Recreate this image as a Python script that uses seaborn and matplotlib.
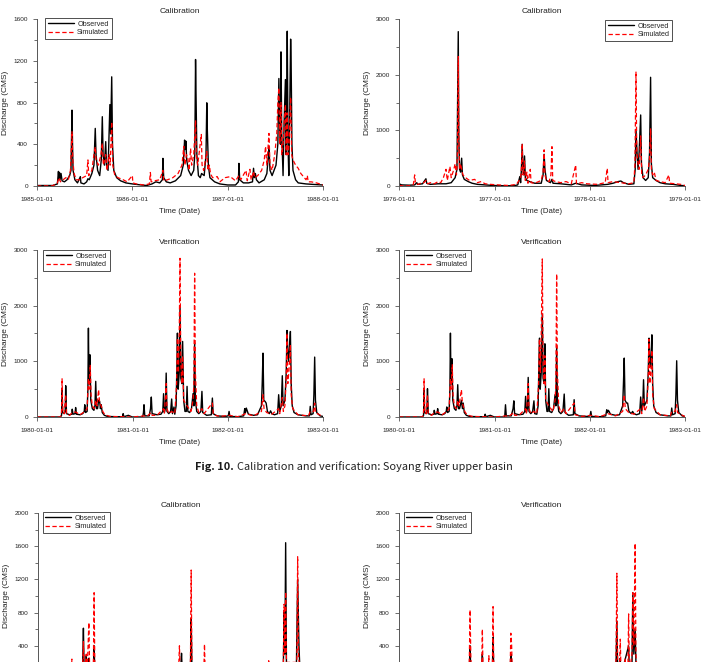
import pandas as pd
import matplotlib
matplotlib.use('Agg')
import matplotlib.pyplot as plt
import matplotlib.dates as mdates
from matplotlib.ticker import MultipleLocator
import seaborn as sns

# ==========================================
# DADOS (dia desde o inicio do periodo, vazao em CMS)
# ==========================================
tl_start, tl_end = '1985-01-01', '1988-01-01'
tl_obs = [(0, 5), (60, 5), (78, 20), (82, 140), (84, 60), (86, 130), (88, 60), (92, 120), (96, 50),
          (105, 40), (115, 60), (125, 100), (130, 150), (134, 727), (136, 400), (138, 150), (145, 60),
          (155, 30), (166, 90), (168, 30), (180, 20), (190, 40), (195, 70), (200, 60), (210, 120),
          (218, 200), (223, 552), (226, 300), (232, 150), (240, 100), (246, 250), (250, 664), (253, 300),
          (258, 200), (263, 425), (266, 200), (272, 150), (279, 780), (282, 500), (286, 1046), (289, 400),
          (294, 150), (305, 80), (320, 50), (340, 30), (365, 20), (400, 10), (420, 5), (440, 20), (455, 40),
          (470, 30), (480, 60), (482, 265), (485, 80), (495, 40), (510, 30), (530, 50), (550, 100),
          (560, 200), (565, 440), (568, 350), (570, 430), (573, 250), (580, 150), (590, 100), (600, 150),
          (604, 300), (607, 1212), (609, 840), (612, 300), (618, 100), (625, 80), (630, 120), (640, 100),
          (647, 300), (650, 797), (652, 545), (656, 200), (662, 80), (680, 40), (700, 20), (730, 10),
          (760, 10), (771, 40), (773, 217), (776, 60), (790, 30), (810, 30), (825, 40), (829, 170),
          (832, 80), (836, 120), (840, 60), (850, 30), (870, 60), (880, 120), (886, 300), (888, 380),
          (892, 150), (900, 100), (915, 200), (922, 400), (926, 1030), (929, 600), (932, 400), (934, 1285),
          (937, 500), (942, 100), (946, 600), (951, 1020), (954, 300), (956, 700), (958, 1483), (961, 400),
          (964, 100), (967, 600), (971, 1407), (973, 1160), (976, 400), (980, 150), (990, 60), (1000, 30),
          (1030, 20), (1060, 15), (1095, 10)]
tl_sim = [(0, 0), (60, 2), (78, 30), (84, 80), (90, 40), (100, 60), (110, 80), (120, 60), (128, 150),
          (134, 520), (137, 250), (142, 120), (150, 60), (166, 60), (175, 80), (190, 100), (195, 250),
          (198, 100), (210, 150), (218, 300), (223, 376), (226, 250), (235, 200), (245, 300), (250, 410),
          (254, 200), (260, 250), (263, 300), (268, 150), (276, 300), (280, 200), (286, 615), (290, 200),
          (298, 100), (310, 80), (330, 60), (345, 40), (365, 100), (367, 30), (380, 20), (410, 10),
          (430, 20), (434, 130), (437, 40), (450, 50), (470, 60), (482, 150), (485, 50), (500, 60),
          (520, 80), (540, 120), (555, 200), (562, 380), (566, 200), (572, 300), (577, 280), (582, 150),
          (588, 360), (592, 200), (600, 300), (607, 630), (610, 300), (615, 200), (620, 300), (629, 494),
          (632, 200), (638, 150), (650, 330), (654, 150), (660, 200), (664, 120), (672, 80), (690, 90),
          (700, 40), (720, 80), (740, 90), (760, 50), (773, 100), (780, 60), (800, 150), (805, 50),
          (815, 160), (820, 60), (829, 140), (833, 80), (845, 100), (860, 150), (870, 250), (875, 380),
          (880, 200), (888, 504), (892, 200), (900, 150), (910, 300), (918, 500), (922, 800), (926, 940),
          (929, 400), (934, 800), (937, 300), (942, 400), (946, 600), (951, 780), (954, 300), (958, 700),
          (961, 300), (965, 400), (971, 850), (975, 300), (980, 250), (990, 200), (1000, 170), (1010, 120),
          (1020, 90), (1030, 60), (1035, 100), (1038, 40), (1050, 40), (1070, 30), (1095, 10)]

tr_start, tr_end = '1976-01-01', '1979-01-01'
tr_obs = [(0, 40), (10, 20), (40, 15), (60, 20), (68, 60), (72, 30), (90, 40), (103, 130), (106, 50),
          (120, 30), (150, 40), (180, 40), (200, 60), (215, 150), (222, 300), (227, 2773), (229, 900),
          (232, 300), (236, 250), (240, 500), (243, 200), (250, 120), (265, 80), (280, 50), (300, 30),
          (330, 20), (360, 10), (400, 5), (440, 5), (455, 20), (463, 170), (466, 60), (469, 300),
          (472, 749), (475, 300), (478, 200), (481, 540), (484, 150), (490, 100), (500, 80), (520, 50),
          (545, 50), (552, 200), (556, 570), (559, 300), (565, 100), (580, 60), (586, 120), (590, 50),
          (620, 40), (660, 20), (677, 50), (700, 20), (750, 10), (800, 30), (820, 50), (840, 80), (850, 90),
          (860, 60), (880, 30), (900, 40), (905, 300), (908, 1018), (912, 600), (916, 300), (920, 600),
          (926, 1276), (929, 400), (935, 150), (945, 100), (955, 150), (960, 600), (964, 1953), (967, 400),
          (972, 150), (985, 100), (1000, 60), (1020, 40), (1050, 30), (1080, 10), (1096, 5)]
tr_sim = [(0, 10), (20, 0), (40, 5), (55, 30), (60, 200), (63, 40), (75, 30), (85, 60), (95, 60), (103, 100),
          (110, 40), (120, 60), (135, 40), (150, 80), (160, 60), (170, 150), (180, 300), (185, 100),
          (195, 350), (200, 150), (210, 300), (215, 400), (220, 200), (224, 600), (227, 2324), (229, 900),
          (232, 300), (236, 400), (240, 300), (245, 200), (255, 150), (270, 100), (290, 120), (300, 60),
          (315, 80), (330, 40), (350, 30), (380, 20), (420, 10), (450, 30), (460, 100), (466, 150),
          (469, 300), (472, 760), (475, 200), (481, 450), (484, 100), (490, 250), (494, 50), (503, 300),
          (506, 60), (520, 50), (545, 100), (552, 250), (556, 650), (559, 200), (565, 100), (575, 80),
          (582, 200), (586, 707), (589, 100), (600, 80), (620, 60), (640, 80), (660, 40), (677, 377),
          (680, 40), (700, 60), (720, 40), (760, 30), (790, 60), (798, 317), (801, 60), (820, 80), (850, 60),
          (880, 40), (900, 60), (904, 400), (908, 2055), (911, 600), (916, 400), (920, 300), (926, 900),
          (930, 200), (935, 150), (945, 200), (955, 300), (960, 500), (964, 1036), (967, 300), (972, 200),
          (978, 250), (985, 100), (1000, 80), (1020, 60), (1034, 198), (1037, 50), (1060, 40), (1080, 30),
          (1096, 10)]

ml_start, ml_end = '1980-01-01', '1983-01-01'
ml_obs = [(0, 0), (90, 0), (94, 30), (96, 520), (98, 80), (104, 60), (108, 100), (110, 562), (113, 60),
          (125, 40), (133, 50), (135, 140), (138, 50), (146, 60), (148, 170), (151, 50), (165, 40), (175, 60),
          (181, 100), (183, 220), (186, 80), (192, 100), (195, 500), (197, 1596), (199, 600), (201, 700),
          (203, 1117), (206, 300), (212, 150), (218, 120), (222, 200), (225, 640), (228, 150), (232, 150),
          (236, 300), (240, 280), (243, 150), (246, 220), (250, 80), (258, 30), (270, 10), (300, 5),
          (328, 5), (330, 60), (333, 5), (350, 30), (365, 0), (405, 0), (408, 80), (410, 220), (413, 20),
          (430, 20), (435, 150), (438, 358), (441, 60), (460, 40), (475, 50), (482, 100), (485, 418),
          (488, 80), (492, 150), (495, 789), (498, 100), (505, 60), (512, 100), (516, 323), (519, 60),
          (525, 180), (528, 50), (533, 200), (536, 900), (538, 1506), (541, 500), (545, 800), (548, 1984),
          (551, 700), (555, 600), (558, 1357), (562, 300), (567, 100), (572, 100), (575, 550), (578, 100),
          (585, 80), (592, 150), (598, 420), (601, 200), (604, 1327), (607, 300), (612, 100), (620, 60),
          (628, 100), (632, 460), (635, 80), (650, 30), (668, 40), (672, 340), (675, 60), (690, 20),
          (720, 10), (733, 20), (736, 100), (739, 10), (770, 5), (792, 20), (796, 150), (799, 80),
          (802, 160), (805, 120), (810, 50), (830, 30), (845, 40), (860, 200), (863, 600), (866, 1147),
          (869, 300), (874, 280), (878, 250), (883, 100), (890, 60), (895, 110), (900, 60), (910, 40),
          (922, 60), (926, 400), (930, 100), (936, 200), (940, 741), (943, 200), (950, 300), (955, 800),
          (958, 1554), (961, 1200), (964, 1000), (967, 1200), (971, 1536), (974, 600), (978, 200), (985, 80),
          (1000, 40), (1030, 20), (1044, 20), (1047, 191), (1050, 40), (1058, 60), (1061, 400), (1064, 1076),
          (1067, 300), (1072, 80), (1085, 20), (1096, 10)]
ml_sim = [(0, 0), (90, 0), (94, 60), (96, 687), (99, 100), (104, 60), (110, 400), (113, 60), (125, 30),
          (135, 80), (148, 90), (165, 40), (183, 100), (192, 150), (197, 700), (200, 500), (204, 938),
          (207, 400), (212, 200), (220, 150), (225, 300), (230, 200), (236, 490), (240, 250), (246, 200),
          (252, 100), (260, 40), (280, 10), (330, 5), (365, 0), (410, 20), (420, 10), (438, 80), (441, 30),
          (460, 30), (485, 150), (488, 60), (495, 600), (498, 150), (505, 60), (516, 100), (528, 60),
          (535, 600), (538, 1416), (542, 800), (545, 1500), (548, 2850), (551, 1000), (555, 600),
          (558, 1100), (562, 300), (575, 200), (590, 100), (598, 300), (601, 600), (604, 2582), (607, 800),
          (612, 200), (620, 80), (632, 150), (640, 60), (672, 250), (676, 40), (700, 10), (736, 30),
          (770, 5), (800, 60), (830, 20), (860, 100), (866, 400), (870, 150), (880, 80), (900, 50),
          (926, 150), (930, 60), (940, 350), (944, 100), (950, 200), (955, 700), (958, 1506), (961, 600),
          (965, 800), (971, 1300), (974, 400), (980, 150), (1000, 40), (1040, 20), (1047, 100), (1060, 100),
          (1064, 250), (1067, 80), (1096, 5)]

mr_start, mr_end = '1980-01-01', '1983-01-01'
mr_obs = [(0, 0), (90, 0), (94, 30), (96, 520), (98, 80), (104, 60), (107, 100), (109, 508), (112, 60),
          (125, 40), (133, 50), (135, 120), (138, 50), (146, 60), (148, 150), (151, 50), (165, 40),
          (175, 60), (181, 100), (183, 180), (186, 80), (192, 100), (195, 500), (197, 1506), (199, 600),
          (201, 700), (203, 1046), (206, 300), (212, 150), (218, 120), (222, 200), (225, 580), (228, 150),
          (232, 150), (239, 300), (243, 150), (246, 250), (250, 80), (258, 30), (270, 10), (300, 5),
          (328, 5), (330, 50), (333, 5), (350, 30), (365, 0), (405, 0), (406, 80), (408, 220), (411, 20),
          (430, 20), (437, 150), (440, 290), (443, 60), (460, 40), (475, 50), (482, 100), (485, 370),
          (488, 80), (492, 150), (495, 711), (498, 100), (505, 60), (512, 100), (517, 290), (520, 60),
          (528, 50), (533, 200), (536, 900), (538, 1416), (541, 500), (545, 800), (549, 1847), (552, 700),
          (556, 600), (559, 1315), (562, 300), (567, 100), (571, 100), (574, 508), (577, 100), (585, 80),
          (592, 150), (598, 400), (601, 200), (604, 1267), (607, 300), (612, 100), (620, 60), (628, 100),
          (633, 412), (636, 80), (650, 30), (668, 40), (671, 311), (674, 60), (690, 20), (720, 10),
          (732, 20), (735, 100), (738, 10), (770, 5), (792, 20), (796, 130), (799, 80), (802, 120),
          (805, 100), (810, 50), (830, 30), (845, 40), (857, 200), (860, 600), (863, 1058), (866, 300),
          (872, 250), (876, 250), (881, 100), (890, 60), (895, 100), (900, 60), (910, 40), (922, 60),
          (926, 359), (930, 100), (934, 200), (937, 669), (940, 200), (950, 300), (955, 800), (958, 1416),
          (961, 986), (964, 900), (966, 1100), (969, 1476), (972, 600), (976, 200), (985, 80), (1000, 40),
          (1030, 20), (1042, 20), (1045, 161), (1048, 40), (1058, 60), (1061, 400), (1064, 1010),
          (1067, 300), (1072, 80), (1085, 20), (1096, 10)]
mr_sim = [(0, 0), (90, 0), (94, 60), (96, 687), (99, 100), (104, 60), (109, 400), (112, 60), (125, 30),
          (135, 80), (148, 90), (165, 40), (183, 100), (192, 150), (197, 700), (200, 500), (204, 938),
          (207, 400), (212, 200), (220, 150), (225, 300), (230, 200), (239, 490), (243, 250), (246, 200),
          (252, 100), (260, 40), (280, 10), (330, 5), (365, 0), (410, 20), (420, 10), (440, 80), (443, 30),
          (460, 30), (485, 150), (488, 60), (495, 600), (498, 150), (505, 60), (517, 100), (528, 60),
          (535, 600), (538, 1400), (542, 800), (545, 1500), (549, 2839), (552, 1000), (556, 600),
          (559, 1100), (562, 300), (574, 200), (590, 100), (598, 300), (601, 600), (604, 2570), (607, 800),
          (612, 200), (620, 80), (633, 150), (640, 60), (671, 250), (675, 40), (700, 10), (735, 30),
          (770, 5), (800, 60), (830, 20), (857, 100), (863, 400), (867, 150), (880, 80), (900, 50),
          (926, 150), (930, 60), (937, 350), (941, 100), (950, 200), (955, 700), (958, 1398), (961, 600),
          (965, 800), (969, 1200), (972, 400), (978, 150), (1000, 40), (1040, 20), (1045, 100), (1058, 100),
          (1064, 220), (1067, 80), (1096, 5)]

bl_start, bl_end = '1990-01-01', '1993-01-01'
bl_obs = [(0, 5), (170, 10), (174, 612), (177, 60), (182, 50), (185, 280), (188, 60), (195, 250), (198, 60),
          (212, 80), (215, 400), (218, 50), (240, 20), (540, 20), (546, 80), (550, 310), (553, 60),
          (584, 100), (587, 732), (590, 80), (620, 20), (880, 20), (940, 100), (943, 824), (946, 300),
          (949, 1642), (952, 200), (990, 100), (995, 1200), (1000, 400), (1004, 80), (1096, 5)]
bl_sim = [(0, 5), (126, 10), (130, 240), (133, 10), (170, 20), (174, 450), (177, 80), (185, 300), (188, 60),
          (195, 680), (198, 80), (212, 100), (215, 1040), (218, 60), (240, 20), (538, 40), (542, 400),
          (545, 60), (550, 200), (553, 40), (584, 150), (587, 1313), (590, 80), (635, 40), (638, 420),
          (641, 30), (880, 20), (884, 220), (887, 20), (940, 150), (943, 900), (946, 300), (949, 1050),
          (952, 200), (992, 200), (995, 1474), (998, 300), (1004, 80), (1096, 5)]

br_start, br_end = '1993-01-01', '1996-01-01'
br_obs = [(0, 5), (268, 10), (272, 400), (275, 50), (316, 20), (319, 300), (322, 30), (357, 20), (360, 500),
          (363, 40), (425, 30), (428, 300), (431, 200), (434, 30), (830, 20), (834, 700), (837, 100),
          (847, 250), (850, 40), (879, 400), (882, 50), (892, 200), (895, 1040), (899, 300), (904, 600),
          (907, 200), (912, 50), (1096, 5)]
br_sim = [(0, 5), (268, 10), (272, 832), (275, 250), (278, 30), (316, 20), (319, 600), (322, 30), (341, 10),
          (344, 280), (347, 20), (357, 20), (360, 872), (363, 60), (425, 40), (428, 552), (431, 420),
          (434, 40), (830, 20), (834, 1274), (837, 150), (844, 100), (847, 480), (850, 60), (863, 30),
          (866, 250), (869, 30), (876, 40), (879, 784), (882, 80), (892, 300), (895, 1040), (899, 400),
          (904, 1635), (907, 300), (912, 60), (1096, 5)]

# ==========================================
# ESTILO
# ==========================================
sns.set_style('ticks')
plt.rcParams['font.family'] = ['Liberation Sans', 'DejaVu Sans']

fig = plt.figure(figsize=(7.09, 6.62), dpi=100)


def to_df(start, pts):
    d = pd.DataFrame(pts, columns=['day', 'q'])
    d['date'] = pd.Timestamp(start) + pd.to_timedelta(d['day'], unit='D')
    return d


def painel(rect, title, start, end, obs, sim, ymax, major, leg_loc, leg_anchor, cortado=False):
    ax = fig.add_axes(rect)
    sns.lineplot(data=to_df(start, obs), x='date', y='q', color='black', lw=1.0,
                 label='Observed', estimator=None, ax=ax)
    sns.lineplot(data=to_df(start, sim), x='date', y='q', color='red', lw=0.9,
                 linestyle=(0, (3.5, 2)), label='Simulated', estimator=None, ax=ax)
    ax.set_xlim(pd.Timestamp(start), pd.Timestamp(end))
    ax.set_ylim(0, ymax)
    ax.yaxis.set_major_locator(MultipleLocator(major))
    ax.yaxis.set_minor_locator(MultipleLocator(major / 2))
    ax.xaxis.set_major_locator(mdates.YearLocator())
    ax.xaxis.set_major_formatter(mdates.DateFormatter('%Y-%m-%d'))
    sns.despine(ax=ax)
    for s in ['left', 'bottom']:
        ax.spines[s].set_color('#555555')
        ax.spines[s].set_linewidth(0.7)
    ax.tick_params(axis='both', which='major', labelsize=4.6, length=3, width=0.6,
                   color='#555555', labelcolor='#222222')
    ax.tick_params(axis='x', pad=5)
    ax.tick_params(axis='y', which='minor', length=2.5, width=0.6, color='#555555')
    ax.set_title(title, fontsize=6, pad=4, color='#222222')
    ax.set_ylabel('Discharge (CMS)', fontsize=6, labelpad=3, color='#222222')
    if cortado:
        # parte de baixo fica fora da pagina (como no original)
        ax.set_yticks(list(range(major, ymax + 1, major)))
        ax.tick_params(axis='x', labelbottom=False)
        ax.set_xlabel('')
    else:
        ax.set_xlabel('Time (Date)', fontsize=5.6, labelpad=4, color='#222222')
    leg = ax.legend(loc=leg_loc, bbox_to_anchor=leg_anchor, fontsize=5.2, handlelength=3.6,
                    borderaxespad=0, fancybox=False, frameon=True, borderpad=0.35,
                    labelspacing=0.25, handletextpad=0.5)
    leg.get_frame().set_edgecolor('black')
    leg.get_frame().set_linewidth(0.6)
    return ax


w = 0.4034
h = 0.2523
painel([0.0522, 0.719, w, h], 'Calibration', tl_start, tl_end, tl_obs, tl_sim, 1600, 400,
       'upper left', (0.028, 1.006))
painel([0.5628, 0.719, w, h], 'Calibration', tr_start, tr_end, tr_obs, tr_sim, 3000, 1000,
       'upper right', (0.955, 0.994))
painel([0.0522, 0.3701, w, h], 'Verification', ml_start, ml_end, ml_obs, ml_sim, 3000, 1000,
       'upper left', (0.021, 1.0))
painel([0.5628, 0.3701, w, h], 'Verification', mr_start, mr_end, mr_obs, mr_sim, 3000, 1000,
       'upper left', (0.017, 1.0))
painel([0.0536, -0.0257, w, 0.2508], 'Calibration', bl_start, bl_end, bl_obs, bl_sim, 2000, 400,
       'upper left', (0.017, 1.006), cortado=True)
painel([0.5628, -0.0257, w, 0.2508], 'Verification', br_start, br_end, br_obs, br_sim, 2000, 400,
       'upper left', (0.017, 1.006), cortado=True)

# legenda da figura
fig.text(234 / 709, 1 - 467 / 662, 'Fig. 10.', ha='right', va='center', fontsize=7.9,
         fontweight='bold', family=['Noto Sans CJK KR', 'DejaVu Sans'], color='#1a1a1a')
fig.text(237 / 709, 1 - 467 / 662, 'Calibration and verification: Soyang River upper basin',
         ha='left', va='center', fontsize=7.9, family=['Noto Sans CJK KR', 'DejaVu Sans'],
         color='#222222')

plt.savefig('out.png', dpi=100)
